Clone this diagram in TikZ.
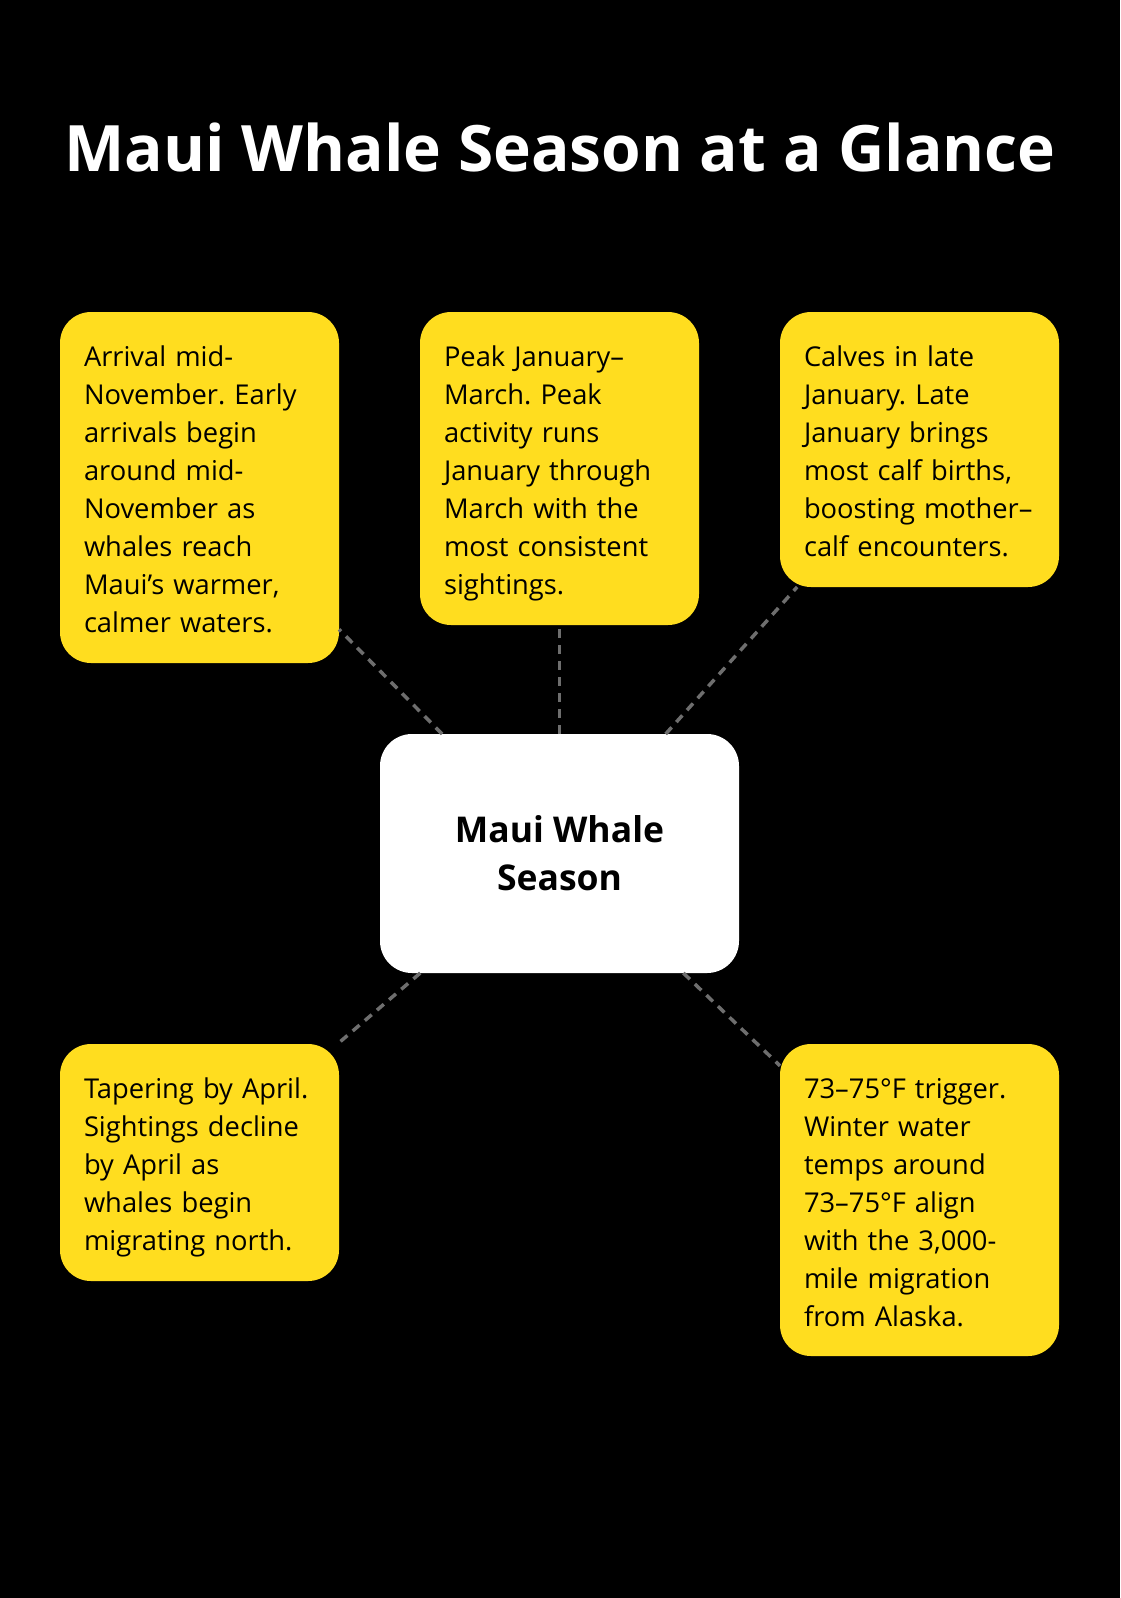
\documentclass[tikz,border=0pt]{standalone}
\usepackage{fontspec}
\setmainfont{Open Sans}
\frenchspacing
\begin{document}
\begin{tikzpicture}[x=1pt,y=-1pt]

\def\boxw{231pt}
\def\rad{31pt}
\def\padx{24pt}
\def\linestrut{\rule[-7pt]{0pt}{38pt}}

\definecolor{sunyellow}{RGB}{255,221,31}
\definecolor{dashgray}{RGB}{110,110,110}

\tikzset{leaf/.style = {fill=sunyellow, rounded corners=\rad, text width=\boxw, align=left, inner xsep=\padx, inner ysep=0pt, outer sep=0pt, anchor=north west, font=\fontsize{27.3}{38}\selectfont, execute at begin node=\linestrut, execute at end node=\linestrut},
hub/.style = {fill=white, rounded corners=32pt, minimum width=359pt, minimum height=239pt, align=center, inner sep=0pt, outer sep=0pt, font=\fontsize{35.5}{48}\selectfont\bfseries},
headline/.style = {text=white, anchor=base, inner sep=0pt, font=\fontsize{64}{80}\selectfont\bfseries},
link/.style = {draw=dashgray, line width=3.5pt, dash pattern=on 9pt off 7pt}}

\fill[black] (0,0) rectangle (1120,1598);

\coordinate (O) at (0,0);

\path (O) node[headline] (head) at +(560,171) {Maui Whale Season at a Glance};

% hub
\path (O) node[hub] (hub) at +(559.5,853.5) {Maui Whale\\Season};

% top row
\path (O) node[leaf, minimum height=351pt] (arrival) at +(60,312) {Arrival mid-\\November. Early\\arrivals begin\\around mid-\\November as\\whales reach\\Maui’s warmer,\\calmer waters.};
\path (O) node[leaf, minimum height=313pt] (peak) at +(420,312) {Peak January–\\March. Peak\\activity runs\\January through\\March with the\\most consistent\\sightings.};
\path (O) node[leaf, minimum height=275pt] (calves) at +(780,312) {Calves in late\\January. Late\\January brings\\most calf births,\\boosting mother–\\calf encounters.};

% bottom row
\path (O) node[leaf, minimum height=237pt] (taper) at +(60,1044) {Tapering by April.\\Sightings decline\\by April as\\whales begin\\migrating north.};
\path (O) node[leaf, minimum height=312pt] (temps) at +(780,1044) {73–75°F trigger.\\Winter water\\temps around\\73–75°F align\\with the 3,000-\\mile migration\\from Alaska.};

% links
\draw[link] (hub) -- (arrival);
\draw[link] (hub) -- (peak);
\draw[link] (hub) -- (calves);
\draw[link] (hub) -- (taper);
\draw[link] (hub) -- (temps);

\end{tikzpicture}
\end{document}
